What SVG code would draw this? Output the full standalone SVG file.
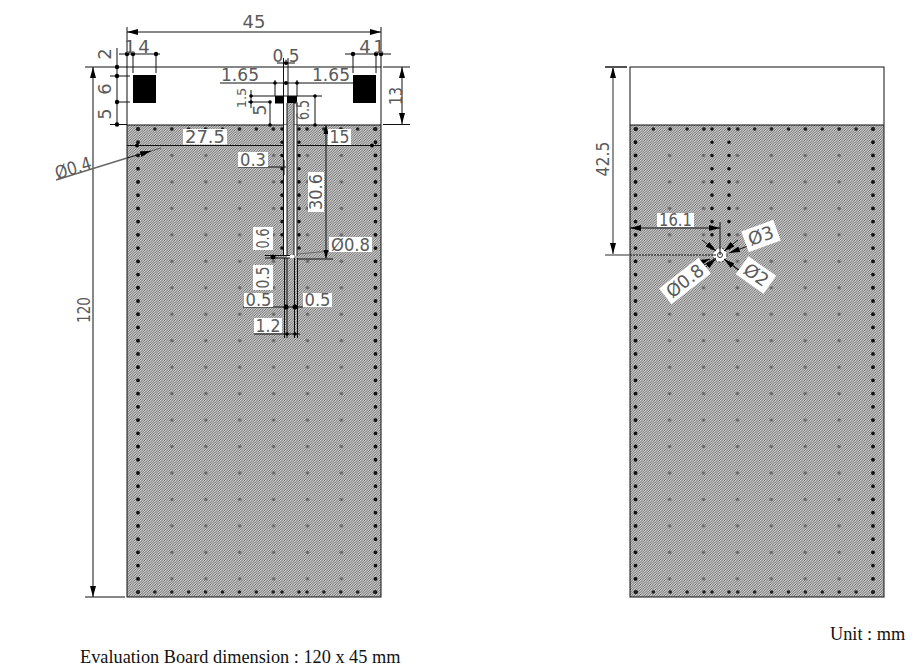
<svg xmlns="http://www.w3.org/2000/svg" width="922" height="671" viewBox="0 0 922 671">
<style>
.l{stroke:#111;stroke-width:1;fill:none}
.g{stroke:#666;stroke-width:1.4;fill:none}
.w{fill:#fff;stroke:none}
.t{font-family:"DejaVu Sans",Verdana,sans-serif;font-size:18px;fill:#5a5a5a;text-anchor:middle}
.s{font-size:13px}
.cap{font-family:"Liberation Serif","Times New Roman",serif;fill:#111;font-size:18.300px}
.e{fill:none;stroke:#111;stroke-width:3.800;stroke-linecap:round;stroke-dasharray:0 13.23}
.r{fill:none;stroke:#222;stroke-width:3.600;stroke-linecap:round;stroke-dasharray:0 16.9}
.x{fill:none;stroke:#111;stroke-width:3.600;stroke-linecap:round;stroke-dasharray:0 13.23}
.a{marker-start:url(#as);marker-end:url(#ae)}
.b{marker-end:url(#ae)}
.n{fill:#000}
</style>
<defs>
<pattern id="hatch" patternUnits="userSpaceOnUse" width="2.500" height="2.500">
<rect width="2.500" height="2.500" fill="#cfcfcf"/>
<path d="M-1 1L1 -1M0 2.500L2.500 0M1.500 3.500L3.500 1.500" stroke="#505050" stroke-width=".8"/>
</pattern>
<pattern id="inner" patternUnits="userSpaceOnUse" x="121" y="115.77" width="33.9" height="26.46">
<circle cx="17" cy="13.23" r="1.700" fill="#666"/>
</pattern>
<marker id="ae" markerUnits="userSpaceOnUse" markerWidth="12" markerHeight="8" refX="11" refY="3" orient="auto"><path d="M0 0L11 3L0 6Z" fill="#000"/></marker>
<marker id="as" markerUnits="userSpaceOnUse" markerWidth="12" markerHeight="8" refX="0" refY="3" orient="auto"><path d="M11 0L0 3L11 6Z" fill="#000"/></marker>
<g id="vias">
<rect x="128" y="126" width="253" height="470" fill="url(#inner)"/>
<path class="e" d="M138 129V593M375.5 129V593"/>
<path class="x" d="M282 129V250M299 129V250"/>
<path class="r" d="M138 129H274M307 129H376M138 592H274M307 592H376"/>
<path class="r" d="M282 592H283M299 592H300"/>
</g>
</defs>

<rect width="922" height="671" fill="#fff"/>

<g id="board-left">
<rect x="127" y="125" width="254" height="472" fill="url(#hatch)"/>
<use href="#vias"/>
<rect x="127" y="67" width="254" height="530" class="l"/>
<path class="l" d="M127 125H381"/>
<rect class="n" x="133" y="75" width="23" height="28"/>
<rect class="n" x="353" y="75" width="23" height="28"/>
<rect class="n" x="275" y="96" width="9" height="7.5"/>
<rect class="n" x="287" y="96" width="10" height="7.5"/>
<rect class="w" x="284" y="125" width="3" height="131"/>
<rect class="w" x="294" y="125" width="3" height="131"/>
<rect x="287" y="103" width="7" height="152" fill="url(#hatch)"/>
<path class="l" d="M283.500 103V256M287 103V256M294 103V256M297 103V256"/>
<rect class="w" x="287" y="255" width="7" height="3"/>
</g>

<g id="board-right">
<rect x="630" y="125" width="254" height="472" fill="url(#hatch)"/>
<use href="#vias" transform="matrix(-1 0 0 1 1011 0)"/>
<rect x="630" y="67" width="254" height="530" class="l"/>
<path class="l" d="M630 125H884"/>
<circle cx="720" cy="255" r="7" fill="#fff" stroke="#333" stroke-dasharray="2 1.500"/>
<circle cx="720" cy="255" r="2.500" fill="#fff" stroke="#333"/>
</g>

<g id="dimensions-left">
<path class="l" d="M127 27V67M381 27V67"/>
<path class="l a" d="M127 32H381"/>
<path class="l" d="M119 54H160M345 54H391M133 54V73M156 54V73M353 54V73M376 54V73"/>
<path class="l" d="M117 48V125M85 67H127M110 76H130M118 102H130M110 124.500H127"/>
<path class="l a" d="M93 67V597"/>
<path class="l" d="M85 597H125"/>
<path class="l" d="M383 67H410M383 124.500H410"/>
<path class="l a" d="M402 67V124"/>
<path class="l" d="M283.500 58V96M288 58V96M277 63H295"/>
<path class="l" d="M220 83H353M275 80V96M297 80V96"/>
<path class="l" d="M250 96H322M248 102H271M270 102V125M315 96V125M251 90V108"/>
<path class="l" d="M127 145.500H284"/>
<path class="l" d="M297 145.500H381"/>
<path class="l" d="M238 167H286"/>
<path class="l" d="M284 160V175"/>
<path class="l" d="M326 125V258"/>
<path d="M326 125L323.500 134H328.500Z" class="n"/>
<path d="M326 259L323.500 250H328.500Z" class="n"/>
<path class="l" d="M298 259H333"/>
<path class="l" d="M265 255.500H290M265 258H290"/>
<path class="l" d="M284.500 258V338M287 258V338M294.500 258V338M297.500 258V338"/>
<path class="l" d="M243 307H303M254 334H300"/>
<path class="l" d="M298 254L330 251" stroke-opacity=".4"/>
<path class="g" d="M56 180L127 158" stroke-width="1"/>
<path class="l b" d="M127 158L151 151"/>
<path class="l" d="M151 151L161 148" stroke-opacity=".5"/>
<g class="n">
<circle cx="127" cy="54" r="2.200"/><circle cx="133" cy="54" r="2.200"/><circle cx="156" cy="54" r="2.200"/>
<circle cx="353" cy="54" r="2.200"/><circle cx="376" cy="54" r="2.200"/><circle cx="381" cy="54" r="2.200"/>
<circle cx="117" cy="67" r="2.200"/><circle cx="117" cy="76" r="2.200"/><circle cx="117" cy="102" r="2.200"/><circle cx="117" cy="124.500" r="2.200"/>
<circle cx="286" cy="63" r="2"/><circle cx="275" cy="83" r="1.800"/><circle cx="286" cy="83" r="2"/><circle cx="297" cy="83" r="1.800"/>
<circle cx="251" cy="96" r="1.800"/><circle cx="251" cy="102" r="1.800"/><circle cx="270" cy="102" r="1.800"/><circle cx="270" cy="125" r="1.800"/>
<circle cx="315" cy="96" r="1.800"/><circle cx="315" cy="125" r="1.800"/>
<circle cx="273" cy="257" r="2.500"/><circle cx="286" cy="307" r="2.500"/><circle cx="295" cy="307" r="2.500"/>
<circle cx="287" cy="334" r="1.800"/><circle cx="295" cy="334" r="1.800"/>
<circle cx="137" cy="145.500" r="2"/><circle cx="372" cy="145.500" r="2"/>
</g>
<rect class="w" x="183" y="129" width="44" height="15.500"/>
<rect class="w" x="328" y="129" width="23" height="16"/>
<rect class="w" x="238" y="152" width="30" height="15"/>
<rect class="w" x="308" y="172" width="16" height="40"/>
<rect class="w" x="253" y="227" width="20" height="23"/>
<rect class="w" x="253" y="265" width="20" height="25"/>
<rect class="w" x="329" y="237" width="43" height="15"/>
<rect class="w" x="244" y="293" width="29" height="14"/>
<rect class="w" x="303" y="293" width="29" height="14"/>
<rect class="w" x="254" y="318" width="28" height="15"/>
<g>
<text class="t" x="254" y="28">45</text>
<text class="t" x="130" y="53">1</text>
<text class="t" x="144" y="53">4</text>
<text class="t" x="365" y="53">4</text>
<text class="t" x="379" y="53">1</text>
<text class="t" transform="translate(111 54) rotate(-90)">2</text>
<text class="t" transform="translate(111 89) rotate(-90)">6</text>
<text class="t" transform="translate(111 114) rotate(-90)">5</text>
<text class="t" transform="translate(90 310) rotate(-90)" textLength="26" lengthAdjust="spacingAndGlyphs">120</text>
<text class="t" transform="translate(402 96) rotate(-90)" textLength="18" lengthAdjust="spacingAndGlyphs">13</text>
<text class="t" x="286" y="62" textLength="27" lengthAdjust="spacingAndGlyphs">0.5</text>
<text class="t" x="240" y="81" textLength="38" lengthAdjust="spacingAndGlyphs">1.65</text>
<text class="t" x="331" y="81" textLength="38" lengthAdjust="spacingAndGlyphs">1.65</text>
<text class="t s" transform="translate(246 98) rotate(-90)">1.5</text>
<text class="t" transform="translate(266 110) rotate(-90)">5</text>
<text class="t" transform="translate(309 110) rotate(-90)" textLength="20" lengthAdjust="spacingAndGlyphs">6.5</text>
<text class="t" x="205" y="143" textLength="40" lengthAdjust="spacingAndGlyphs">27.5</text>
<text class="t" x="339.500" y="143" textLength="20" lengthAdjust="spacingAndGlyphs">15</text>
<text class="t" x="253" y="166" textLength="26" lengthAdjust="spacingAndGlyphs">0.3</text>
<text class="t" transform="translate(322 192) rotate(-90)" textLength="36" lengthAdjust="spacingAndGlyphs">30.6</text>
<text class="t" transform="translate(269 238.500) rotate(-90)" textLength="20" lengthAdjust="spacingAndGlyphs">0.6</text>
<text class="t" transform="translate(269 277.500) rotate(-90)" textLength="22" lengthAdjust="spacingAndGlyphs">0.5</text>
<text class="t" x="350.500" y="251" textLength="39" lengthAdjust="spacingAndGlyphs">Ø0.8</text>
<text class="t" x="258.500" y="306" textLength="26" lengthAdjust="spacingAndGlyphs">0.5</text>
<text class="t" x="317.500" y="306" textLength="26" lengthAdjust="spacingAndGlyphs">0.5</text>
<text class="t" x="268" y="332" textLength="25" lengthAdjust="spacingAndGlyphs">1.2</text>
<text class="t" transform="translate(75 174) rotate(-17)" textLength="37" lengthAdjust="spacingAndGlyphs">Ø0.4</text>
</g>
</g>

<g id="dimensions-right">
<path class="g" d="M605 67H627"/>
<path class="l" d="M605 67H627"/>
<path class="g a" d="M613 67V254"/>
<path class="g" d="M605 255H630"/>
<path class="l" d="M630 255H716" stroke-dasharray="2 1"/>
<path class="l a" d="M630 228H720"/>
<path class="l" d="M720 222V255"/>
<path class="l b" d="M702 240L716 251"/>
<path class="l b" d="M738 240L724 251"/>
<path class="l b" d="M702 270L716 259"/>
<path class="l b" d="M738 270L724 259"/>
<path class="l b" d="M748 246L729 253"/>
<path class="l b" d="M694 265L710 259"/>
<path class="l" d="M690 273L716 258M724 259L746 275"/>
<g transform="translate(761 236) rotate(-20)"><rect class="w" x="-17" y="-11" width="34" height="22"/><text class="t" y="6" textLength="26" lengthAdjust="spacingAndGlyphs">Ø3</text></g>
<g transform="translate(756 275) rotate(35)"><rect class="w" x="-17" y="-11" width="34" height="22"/><text class="t" y="6" textLength="26" lengthAdjust="spacingAndGlyphs">Ø2</text></g>
<g transform="translate(685 281) rotate(-38)"><rect class="w" x="-25" y="-10" width="50" height="20"/><text class="t" y="6" textLength="42" lengthAdjust="spacingAndGlyphs">Ø0.8</text></g>
<rect class="w" x="657" y="213" width="37" height="14"/>
<text class="t" x="675.500" y="226" textLength="33" lengthAdjust="spacingAndGlyphs">16.1</text>
<text class="t" transform="translate(609 159) rotate(-90)" textLength="35" lengthAdjust="spacingAndGlyphs">42.5</text>
</g>

<g id="captions">
<text class="cap" x="830" y="640">Unit : mm</text>
<text class="cap" x="80" y="663">Evaluation Board dimension : 120 x 45 mm</text>
</g>
</svg>
